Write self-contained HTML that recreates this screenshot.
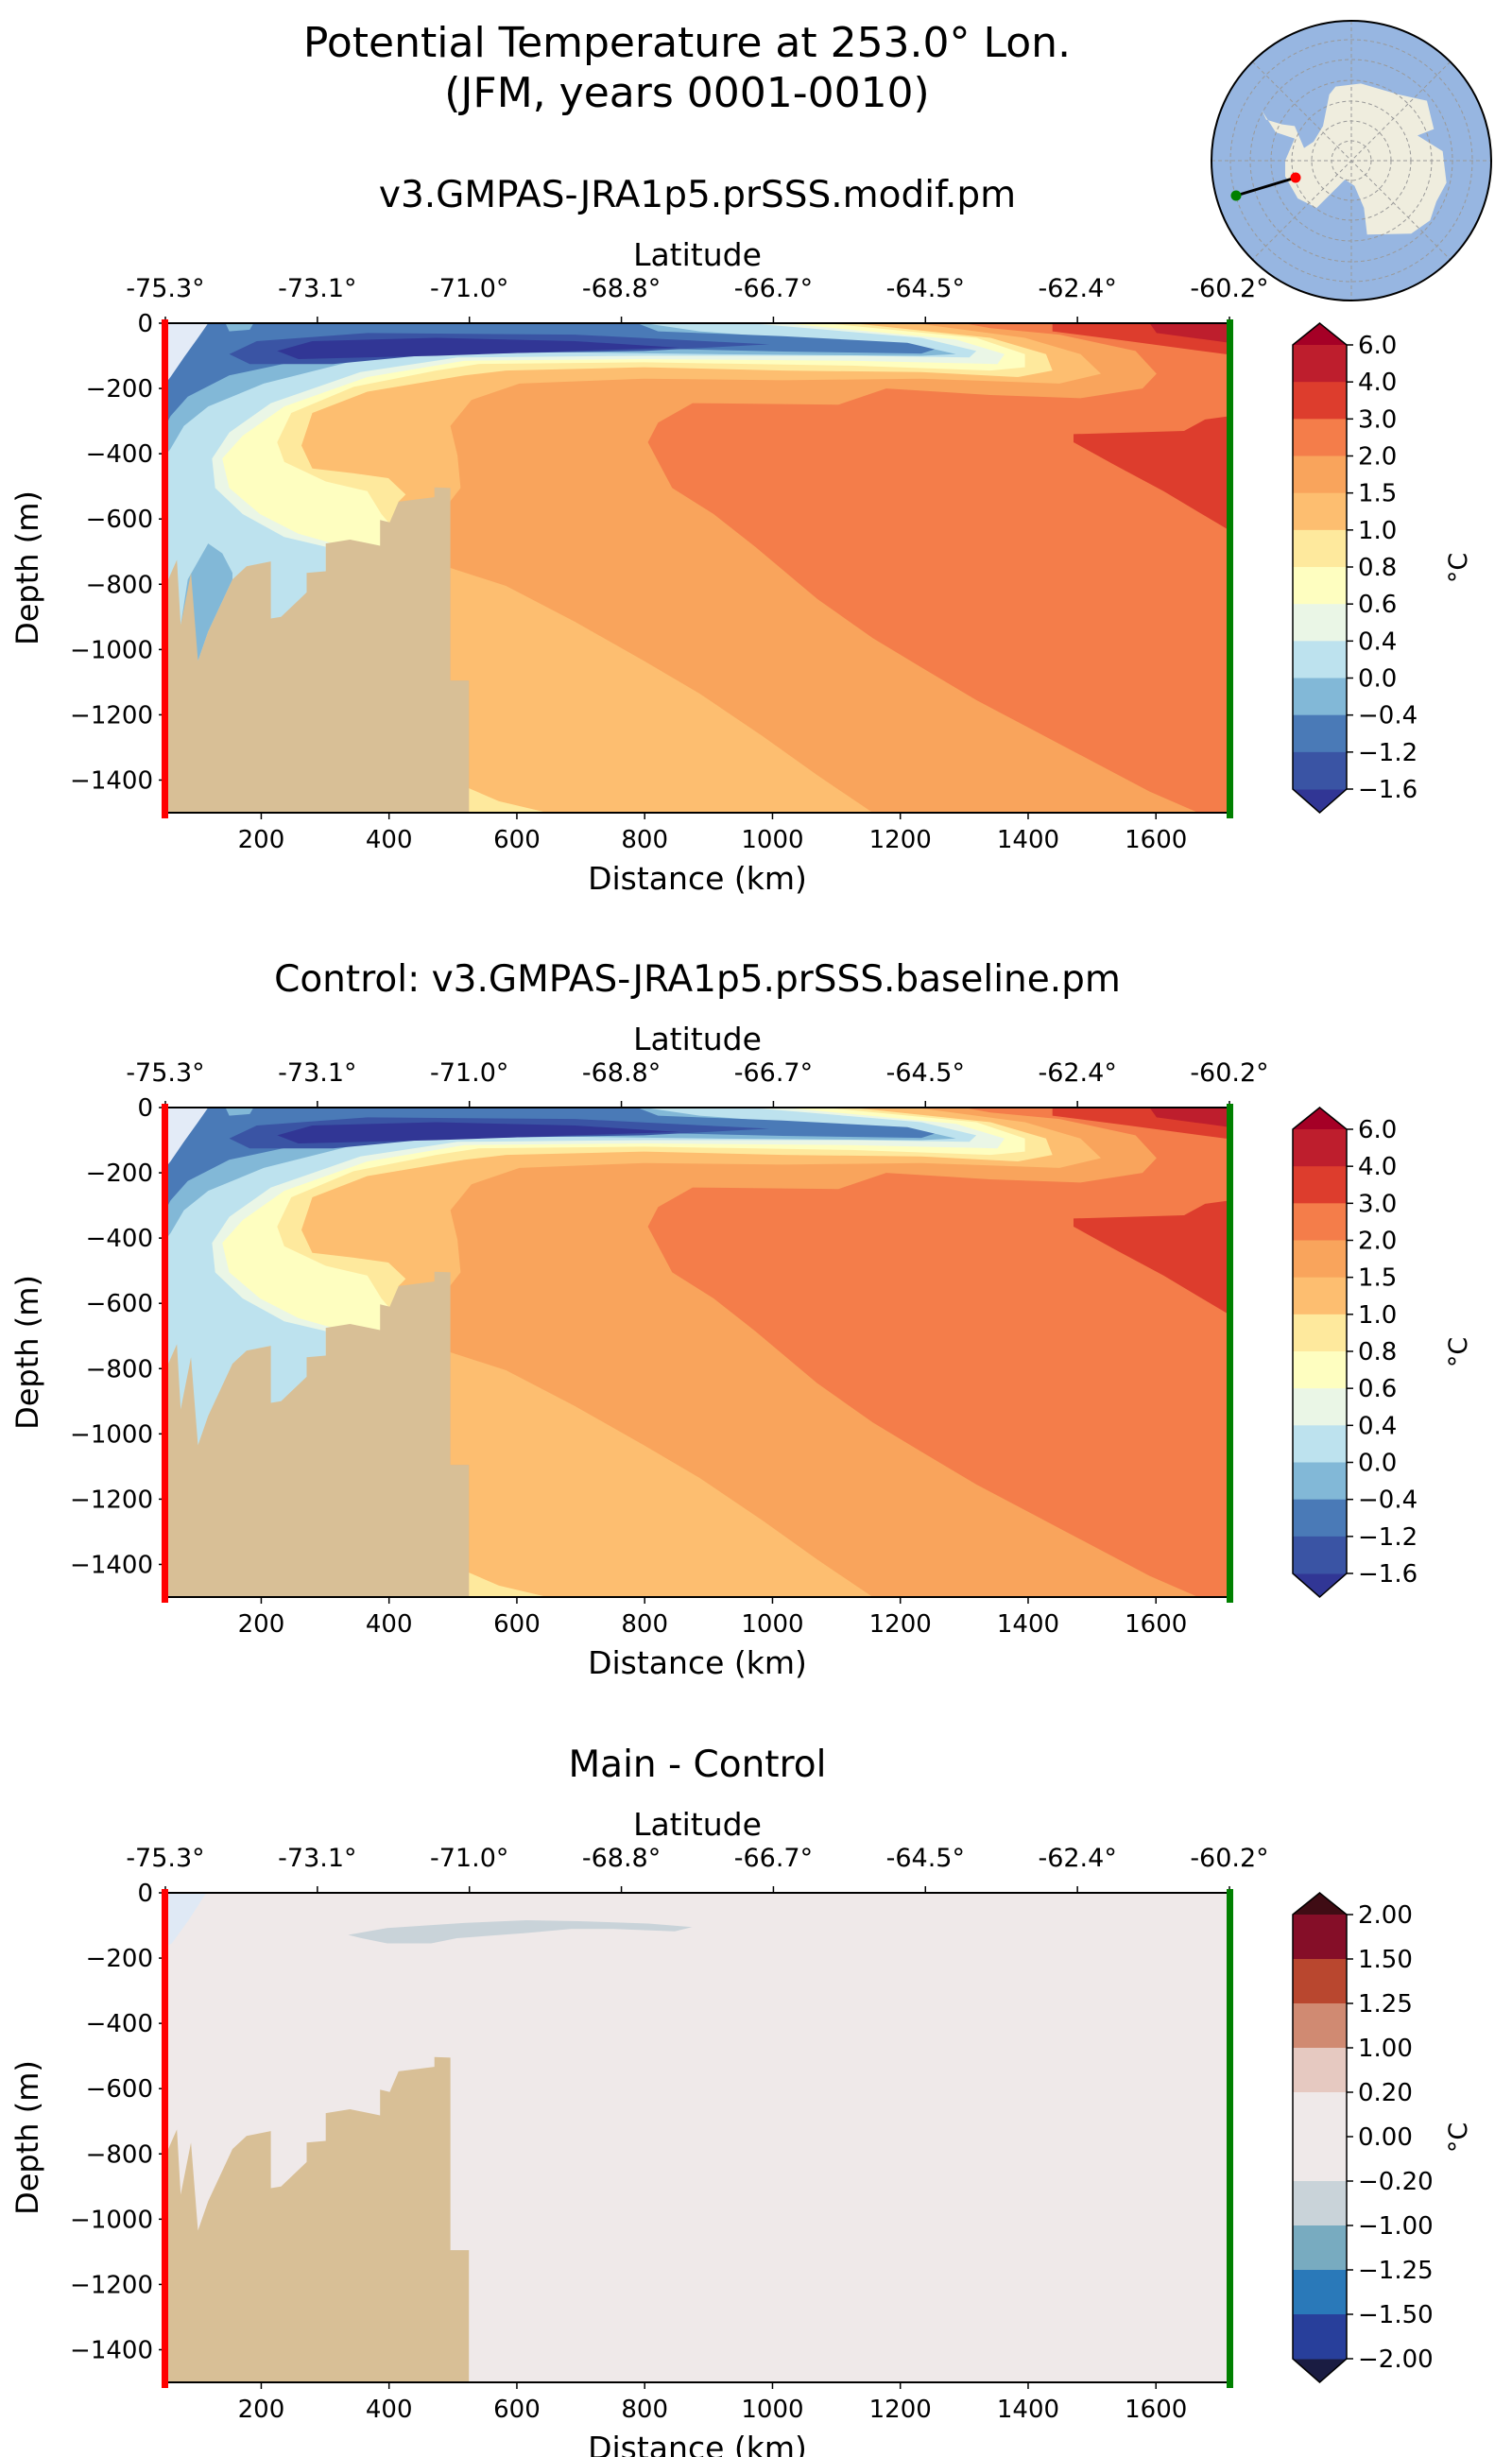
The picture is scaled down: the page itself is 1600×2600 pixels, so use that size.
<!DOCTYPE html>
<html><head><meta charset="utf-8"><style>
html,body{margin:0;padding:0;background:#fff;}
svg{display:block;font-family:"DejaVu Sans","Liberation Sans",sans-serif;}
</style></head><body>
<svg id="fig" width="1600" height="2600" viewBox="0 0 1600 2600" xmlns="http://www.w3.org/2000/svg">
<text x="727" y="60" font-size="44" text-anchor="middle">Potential Temperature at 253.0° Lon.</text>
<text x="727" y="113" font-size="44" text-anchor="middle">(JFM, years 0001-0010)</text>
<g id="inset"></g>
</svg>
<script>
const NS="http://www.w3.org/2000/svg";
const svg=document.getElementById('fig');
// ---------- data ----------
const depthTicks=[0,-200,-400,-600,-800,-1000,-1200,-1400];
const distTicks=[200,400,600,800,1000,1200,1400,1600];
const latLabels=["-75.3°","-73.1°","-71.0°","-68.8°","-66.7°","-64.5°","-62.4°","-60.2°"];
const tempLevels=["6.0","4.0","3.0","2.0","1.5","1.0","0.8","0.6","0.4","0.0","\u22120.4","\u22121.2","\u22121.6"];
const tempColors=["#be1e2d","#dd3d2d","#f47d4a","#f9a45c","#fdbe70","#fee99d","#fefec0","#eaf6e6","#bde2ee","#82b8d7","#4a7ab7","#3a54a4"];
const diffLevels=["2.00","1.50","1.25","1.00","0.20","0.00","\u22120.20","\u22121.00","\u22121.25","\u22121.50","\u22122.00"];
const diffColors=["#850e28","#b9472f","#d08a72","#e6c9c1","#efe9e9","#efe9e9","#c9d3d9","#78abc0","#2a79b9","#283f9b"];
// contour regions: [distance km, depth m]
const land=[[50,-1520],[50,-805],[68,-725],[74,-925],[90,-765],[101,-1035],[117,-945],[155,-785],[177,-745],[215,-730],[215,-905],[231,-900],[271,-825],[271,-765],[301,-760],[301,-675],[339,-663],[386,-682],[386,-603],[401,-610],[415,-547],[471,-533],[471,-503],[496,-505],[496,-1095],[525,-1095],[525,-1520]];
const lower15=[[496,-750],[583,-805],[691,-915],[799,-1035],[886,-1135],[984,-1265],[1070,-1385],[1157,-1520],[525,-1520],[525,-1095],[496,-1095]];
const lower10=[[525,-1425],[572,-1465],[648,-1520],[525,-1520]];
const warm23=[[1298,0],[1715,0],[1715,-1520],[1666,-1520],[1590,-1435],[1503,-1345],[1406,-1245],[1319,-1155],[1233,-1055],[1157,-965],[1070,-845],[973,-685],[908,-585],[843,-505],[805,-365],[821,-305],[875,-245],[1103,-250],[1178,-200],[1341,-220],[1482,-230],[1579,-200],[1601,-155],[1568,-85],[1449,-35],[1341,-15]];
const warm34top=[[1438,0],[1438,-25],[1557,-55],[1709,-95],[1715,-95],[1715,0]];
const warm34tri=[[1471,-340],[1557,-335],[1644,-330],[1677,-295],[1715,-285],[1715,-635],[1612,-515],[1536,-435],[1471,-365]];
const warm46=[[1590,0],[1601,-30],[1715,-60],[1715,0]];
const cold15=[[1222,0],[1395,-45],[1482,-95],[1514,-155],[1449,-185],[1233,-170],[1016,-175],[799,-170],[604,-185],[529,-235],[496,-315],[507,-405],[512,-505],[496,-545],[474,-1520],[50,-1520],[50,0]];
const cold10=[[1124,0],[1341,-45],[1428,-95],[1438,-145],[1384,-165],[1233,-150],[1016,-145],[799,-135],[583,-145],[518,-160],[366,-210],[280,-275],[263,-375],[280,-445],[345,-460],[399,-475],[426,-525],[415,-547],[399,-1520],[50,-1520],[50,0]];
const cold08=[[1081,0],[1319,-45],[1395,-95],[1395,-135],[1341,-145],[1124,-130],[799,-120],[540,-125],[474,-145],[345,-195],[247,-275],[225,-365],[236,-425],[301,-485],[366,-515],[388,-585],[399,-610],[386,-1520],[50,-1520],[50,0]];
const cold06=[[1016,0],[1287,-50],[1363,-95],[1352,-125],[1124,-115],[799,-110],[518,-115],[366,-165],[236,-255],[171,-345],[139,-415],[150,-505],[198,-585],[258,-645],[312,-675],[312,-1520],[50,-1520],[50,0]];
const cold04=[[962,0],[1233,-45],[1319,-85],[1308,-105],[1124,-100],[799,-100],[507,-105],[355,-150],[215,-245],[150,-335],[123,-415],[128,-505],[171,-585],[236,-655],[301,-685],[301,-1520],[50,-1520],[50,0]];
const cold00=[[799,0],[886,-25],[1124,-60],[1254,-80],[1287,-95],[1233,-100],[908,-95],[529,-85],[366,-105],[204,-185],[117,-255],[79,-315],[58,-385],[50,-405],[50,0]];
const coldSpike=[[85,-785],[117,-675],[139,-705],[155,-765],[155,-785],[117,-945],[101,-1035],[90,-885],[74,-925]];
const coldM04=[[788,0],[821,-25],[1016,-40],[1211,-60],[1254,-80],[1233,-93],[1016,-87],[799,-77],[474,-73],[258,-115],[150,-160],[85,-225],[58,-285],[50,-315],[50,0]];
const coldBlob=[[144,0],[188,0],[182,-20],[150,-25]];
const coldM12=[[150,-95],[193,-55],[366,-30],[691,-35],[995,-65],[799,-85],[474,-95],[312,-125],[182,-125]];
const coldM16=[[225,-85],[280,-55],[474,-45],[691,-55],[854,-75],[691,-85],[474,-100],[258,-110]];
const paleCorner=[[50,0],[117,0],[101,-45],[79,-105],[58,-165],[50,-185]];
const diffCorner=[[50,0],[114,0],[87,-82],[60,-155],[50,-165]];
const diffBlob=[[336,-129],[397,-108],[520,-92],[615,-84],[697,-87],[806,-94],[874,-105],[847,-118],[752,-111],[684,-111],[615,-123],[506,-139],[466,-155],[397,-155],[357,-139]];

// ---------- geometry ----------
const L=175,R=1301,H=518,D0=50,D1=1715;
function xS(d){return L+(d-D0)*(R-L)/(D1-D0);}
function yS(T,z){return T+(-z)*H/1500;}
function el(tag,attrs,parent){const e=document.createElementNS(NS,tag);for(const k in attrs)e.setAttribute(k,attrs[k]);(parent||svg).appendChild(e);return e;}
function txt(s,attrs,parent){const e=el('text',attrs,parent);e.textContent=s;return e;}

function poly(g,T,pts,color,name){
  const p=el('polygon',{points:pts.map(q=>xS(q[0]).toFixed(1)+','+yS(T,Math.max(q[1],-1500)).toFixed(1)).join(' '),fill:color},g);
  
  
}

function panel(T,title,kind,idx){
  const g=el('g',{});
  
  
  const t=txt(title,{x:738,y:T-123,'font-size':39,'text-anchor':'middle'},g);
  
  
  const plot=el('g',{},g);
  
  
  if(kind==='diff'){
    poly(plot,T,[[D0,0],[D1,0],[D1,-1500],[D0,-1500]],'#efe9e9','diff-background');
    poly(plot,T,diffCorner,'#dfe9f5','diff-corner');
    poly(plot,T,diffBlob,'#c9d3d9','diff-cold-blob');
  } else {
    poly(plot,T,[[D0,0],[D1,0],[D1,-1500],[D0,-1500]],'#f9a45c','band-1p5-2');
    poly(plot,T,lower15,'#fdbe70','band-1-1p5-deep');
    poly(plot,T,lower10,'#fee99d','band-0p8-1-deep');
    poly(plot,T,warm23,'#f47d4a','band-2-3');
    poly(plot,T,warm34top,'#dd3d2d','band-3-4-surface');
    poly(plot,T,warm34tri,'#dd3d2d','band-3-4-subsurface');
    poly(plot,T,warm46,'#be1e2d','band-4-6');
    poly(plot,T,cold15,'#fdbe70','band-1-1p5');
    poly(plot,T,cold10,'#fee99d','band-0p8-1');
    poly(plot,T,cold08,'#fefec0','band-0p6-0p8');
    poly(plot,T,cold06,'#eaf6e6','band-0p4-0p6');
    poly(plot,T,cold04,'#bde2ee','band-0-0p4');
    poly(plot,T,cold00,'#82b8d7','band-m0p4-0');
    if(kind==='main') poly(plot,T,coldSpike,'#82b8d7','band-m0p4-0-spike');
    poly(plot,T,coldM04,'#4a7ab7','band-m1p2-m0p4');
    poly(plot,T,coldBlob,'#82b8d7','band-m0p4-0-blob');
    poly(plot,T,coldM12,'#3a54a4','band-m1p6-m1p2');
    poly(plot,T,coldM16,'#313695','band-below-m1p6');
    poly(plot,T,paleCorner,'#e3ebf7','pale-corner');
  }
  poly(plot,T,land,'#d8bf96','bathymetry');
  const fr=el('rect',{x:L,y:T,width:R-L,height:H,fill:'none',stroke:'#000','stroke-width':2},g);
  
  
  depthTicks.forEach(z=>{
    const y=yS(T,z);
    el('line',{x1:L-7,x2:L,y1:y,y2:y,stroke:'#000','stroke-width':1.5},g);
    const lab=txt(z===0?'0':'\u2212'+Math.abs(z),{x:L-13,y:y+9,'font-size':26,'text-anchor':'end'},g);
    
    
  });
  distTicks.forEach(d=>{
    const x=xS(d);
    el('line',{x1:x,x2:x,y1:T+H,y2:T+H+7,stroke:'#000','stroke-width':1.5},g);
    const lab=txt(String(d),{x:x,y:T+H+37,'font-size':26,'text-anchor':'middle'},g);
    
    
  });
  latLabels.forEach((s,i)=>{
    const x=L+i*(R-L)/(latLabels.length-1);
    el('line',{x1:x,x2:x,y1:T-7,y2:T,stroke:'#000','stroke-width':1.5},g);
    const lab=txt(s,{x:x,y:T-28,'font-size':27,'text-anchor':'middle'},g);
    
    
  });
  const lt=txt('Latitude',{x:738,y:T-61,'font-size':33,'text-anchor':'middle'},g);
  
  
  const xt=txt('Distance (km)',{x:738,y:T+599,'font-size':33,'text-anchor':'middle'},g);
  
  
  const yt=txt('Depth (m)',{x:0,y:0,'font-size':32,'text-anchor':'middle',transform:'translate(40,'+(T+H/2)+') rotate(-90)'},g);
  
  
  const rl=el('rect',{x:L-4,y:T-4,width:7,height:H+10,fill:'#ff0000'},g);
  
  
  const gl=el('rect',{x:R-3,y:T-4,width:7,height:H+10,fill:'#008000'},g);
  
  
  const cb=el('g',{},g);
  
  
  const cx0=1368,cx1=1425,cTop=T+23,cBot=T+493;
  const cols=kind==='diff'?diffColors:tempColors;
  const levs=kind==='diff'?diffLevels:tempLevels;
  const n=cols.length,bh=(cBot-cTop)/n;
  const over=kind==='diff'?'#3f0c14':'#a50026',under=kind==='diff'?'#1a1c42':'#313695';
  const mid=(cx0+cx1)/2;
  el('polygon',{points:`${cx0},${cTop} ${mid},${T} ${cx1},${cTop}`,fill:over},cb);
  el('polygon',{points:`${cx0},${cBot} ${mid},${T+H} ${cx1},${cBot}`,fill:under},cb);
  cols.forEach((c,i)=>{
    const r=el('rect',{x:cx0,y:cTop+i*bh,width:cx1-cx0,height:bh+0.5,fill:c},cb);
    
    
  });
  el('polygon',{points:`${cx0},${cTop} ${mid},${T} ${cx1},${cTop} ${cx1},${cBot} ${mid},${T+H} ${cx0},${cBot}`,fill:'none',stroke:'#000','stroke-width':1.5},cb);
  levs.forEach((s,i)=>{
    const y=cTop+i*bh;
    el('line',{x1:cx1,x2:cx1+7,y1:y,y2:y,stroke:'#000','stroke-width':1.5},cb);
    const lab=txt(s,{x:cx1+12,y:y+9,'font-size':26},cb);
    
    
  });
  const u=txt('°C',{x:0,y:0,'font-size':27,'text-anchor':'middle',transform:'translate(1552,'+(T+H/2)+') rotate(-90)'},cb);
  
  
}
panel(342,'v3.GMPAS-JRA1p5.prSSS.modif.pm','main',1);
panel(1172,'Control: v3.GMPAS-JRA1p5.prSSS.baseline.pm','ctrl',2);
panel(2003,'Main - Control','diff',3);

// ---------- inset map ----------
const ins=document.getElementById('inset');
const cxm=1430,cym=170,rm=148;
el('circle',{cx:cxm,cy:cym,r:rm,fill:'#97b6e1'},ins);
const ant=el('path',{d:'M400,275 L480,265 L600,300 L690,320 L712,410 L660,430 L740,480 L752,580 L720,640 L700,700 L640,742 L500,745 L490,660 L460,590 L430,570 L400,600 L340,660 L280,630 L240,560 L240,510 L270,440 L210,420 L165,350 L150,320 L180,380 L230,395 L270,400 L300,470 L330,450 L360,400 L370,350 L380,300 Z',fill:'#efedde',transform:'translate(1280,0) scale(0.3333)'},ins);


[21,42,63,85,107,128].forEach(r=>el('circle',{cx:cxm,cy:cym,r:r,fill:'none',stroke:'#999','stroke-width':1,'stroke-dasharray':'4,3'},ins));
for(let a=0;a<180;a+=45){const c=Math.cos(a*Math.PI/180)*rm,s=Math.sin(a*Math.PI/180)*rm;el('line',{x1:cxm-c,y1:cym-s,x2:cxm+c,y2:cym+s,stroke:'#999','stroke-width':1,'stroke-dasharray':'4,3'},ins);}
el('circle',{cx:cxm,cy:cym,r:rm,fill:'none',stroke:'#000','stroke-width':2},ins);
el('line',{x1:1308,y1:207,x2:1371,y2:188,stroke:'#000','stroke-width':3},ins);
const gd=el('circle',{cx:1308,cy:207,r:5.5,fill:'#008000'},ins);


const rd=el('circle',{cx:1371,cy:188,r:5.5,fill:'#ff0000'},ins);


</script>
</body></html>
